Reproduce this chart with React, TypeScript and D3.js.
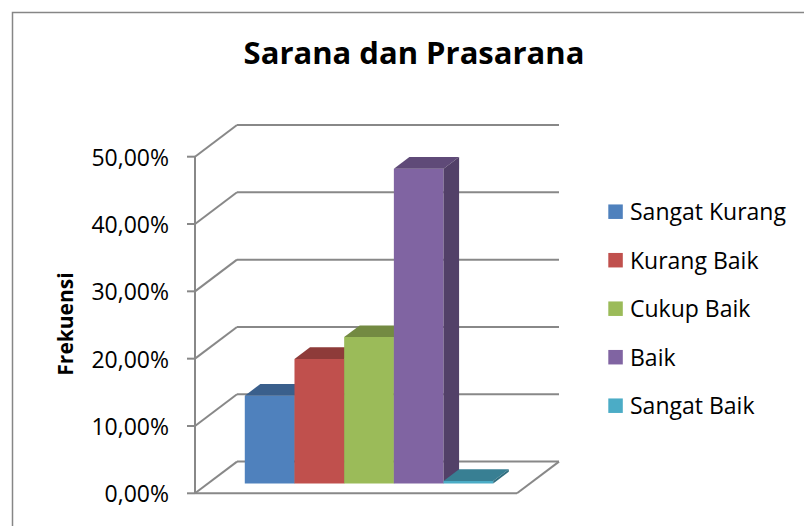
import React from "react";
import * as d3 from "d3";

const categories = ["Sangat Kurang", "Kurang Baik", "Cukup Baik", "Baik", "Sangat Baik"];
const values = [13.04, 18.48, 21.74, 46.74, 0];
const colors = ["#4F81BD", "#C0504D", "#9BBB59", "#8064A2", "#4BACC6"];
const yTicks = [0, 10, 20, 30, 40, 50];
const yTickLabels = ["0,00%", "10,00%", "20,00%", "30,00%", "40,00%", "50,00%"];
const title = "Sarana dan Prasarana";
const yTitle = "Frekuensi";

const W = 804;
const H = 526;
const FONT = "'Open Sans', 'Noto Sans', sans-serif";
const GRID = "#888888";

// 3D frame
const x0 = 195;
const x1 = 517;
const depthDx = 42;
const depthDy = -31.7;
const fFront = 0.31;
const fBack = 0.68;

const y = d3.scaleLinear().domain([0, 50]).range([493.3, 156.7]);
const xb = d3.scaleBand<string>().domain(categories).range([x0, x1]).paddingInner(0).paddingOuter(0.74);

const P = (x: number, yy: number, f: number): [number, number] => [x + depthDx * f, yy + depthDy * f];
const poly = (pts: [number, number][]) => pts.map((p) => p.join(",")).join(" ");
const shade = (c: string, k: number) => {
  const r = d3.rgb(c);
  return d3.rgb(r.r * k, r.g * k, r.b * k).formatHex();
};

export default function App() {
  const bars = categories.map((cat, i) => {
    const xl = xb(cat)!;
    const xr = xl + xb.bandwidth();
    const yb = y(0);
    let yt = y(values[i]);
    if (yb - yt < 2.5) yt = yb - 2.5;
    const front = poly([P(xl, yb, fFront), P(xr, yb, fFront), P(xr, yt, fFront), P(xl, yt, fFront)]);
    const top = poly([P(xl, yt, fFront), P(xr, yt, fFront), P(xr, yt, fBack), P(xl, yt, fBack)]);
    const side = poly([P(xr, yb, fFront), P(xr, yb, fBack), P(xr, yt, fBack), P(xr, yt, fFront)]);
    const c = colors[i];
    return (
      <g key={cat}>
        <polygon points={front} fill={c} />
        <polygon points={top} fill={shade(c, 0.74)} />
        <polygon points={side} fill={shade(c, 0.64)} />
      </g>
    );
  });

  return (
    <svg width={W} height={H} style={{ position: "absolute", left: 0, top: 0 }} fontFamily={FONT}>
      <rect width={W} height={H} fill="#fff" />
      <path d={`M12.5,${H + 5} V12.5 H${W + 5}`} fill="none" stroke="#868686" strokeWidth={1.5} />
      <text x={414} y={64} textAnchor="middle" fontSize={31} fontWeight="bold" fill="#000">
        {title}
      </text>

      {/* back wall gridlines and side wall diagonals */}
      {yTicks.map((t) => {
        const [bx, by] = P(x0, y(t), 1);
        return (
          <g key={t} stroke={GRID} strokeWidth={2} fill="none">
            <line x1={x0} y1={y(t)} x2={bx} y2={by} />
            <line x1={bx} y1={by} x2={x1 + depthDx} y2={by} />
            <line x1={x0 - 8} y1={y(t)} x2={x0} y2={y(t)} />
          </g>
        );
      })}
      {/* floor */}
      <g stroke={GRID} strokeWidth={2} fill="none">
        <line x1={x0} y1={y(0)} x2={x1} y2={y(0)} />
        <line x1={x1} y1={y(0)} x2={x1 + depthDx} y2={y(0) + depthDy} />
        <line x1={x0} y1={y(0)} x2={x0} y2={y(50)} />
      </g>

      {bars}

      {/* y tick labels */}
      {yTicks.map((t, i) => (
        <text key={t} x={169} y={y(t) + 9} textAnchor="end" fontSize={23} fill="#000">
          {yTickLabels[i]}
        </text>
      ))}
      <text
        transform={`translate(73,324) rotate(-90)`}
        textAnchor="middle"
        fontSize={21}
        fontWeight="bold"
        fill="#000"
      >
        {yTitle}
      </text>

      {/* legend */}
      {categories.map((cat, i) => {
        const cy = 211.7 + i * 48.5;
        return (
          <g key={cat}>
            <rect x={608.3} y={cy - 7.25} width={14.5} height={14.5} fill={colors[i]} />
            <text x={630} y={cy + 8.5} fontSize={23} fill="#000">
              {cat}
            </text>
          </g>
        );
      })}
    </svg>
  );
}
